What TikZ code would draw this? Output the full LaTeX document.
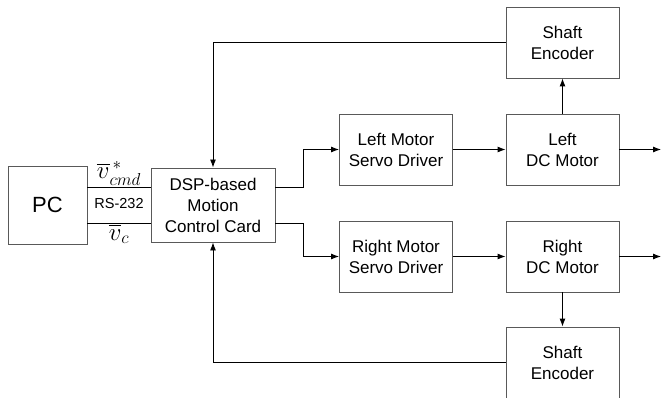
\documentclass[tikz,border=0pt]{standalone}
\usepackage{amsmath}
\usepackage{fontspec}
\setmainfont{Liberation Sans}
\usetikzlibrary{arrows.meta}

\tikzset{
  blockbox/.style={draw=black!65, line width=0.9pt, inner sep=0pt, align=center,
    font=\fontsize{17}{21}\selectfont, minimum width=113pt, minimum height=71pt},
  sig/.style={line width=0.9pt},
  vlabel/.style={font=\fontsize{27}{29}\selectfont, inner sep=0pt}
}

\begin{document}
\begin{tikzpicture}[x=1pt, y=1pt, >={Latex[length=8pt,width=6pt]}]
    \useasboundingbox (0,0) rectangle (662,397);
    % PC and motion control card
    \node[blockbox, minimum width=79pt, minimum height=78pt, font=\fontsize{22}{26}\selectfont] (pc) at (47.5,192) {PC};
    \node[blockbox, minimum width=124pt, minimum height=74pt] (dsp) at (213,192) {DSP-based\\Motion\\Control Card};
    % serial link
    \draw[sig] ([yshift=18pt]pc.east) -- node[above=1pt, vlabel] {$\overline{v}^{\,*}_{cmd}$} ([yshift=18pt]dsp.west);
    \draw[sig] ([yshift=-18pt]pc.east) -- node[below=1pt, vlabel] {$\overline{v}_{c}$} ([yshift=-18pt]dsp.west);
    \node[font=\fontsize{14.5}{17}\selectfont] (rs) at (119,193) {RS-232};
    % servo drivers
    \node[blockbox] (lsd) at (396,247.5) {Left Motor\\Servo Driver};
    \node[blockbox] (rsd) at (396,140.5) {Right Motor\\Servo Driver};
    % DC motors
    \node[blockbox] (ldc) at (562.5,247.5) {Left\\DC Motor};
    \node[blockbox] (rdc) at (562.5,140.5) {Right\\DC Motor};
    % shaft encoders
    \node[blockbox] (lenc) at (562.5,354.5) {Shaft\\Encoder};
    \node[blockbox] (renc) at (562.5,34.5) {Shaft\\Encoder};
    \coordinate (lout) at (661,247.5);
    \coordinate (rout) at (661,140.5);
    % forward path
    \draw[sig, ->] ([yshift=18pt]dsp.east) -- ++(28,0) |- (lsd.west);
    \draw[sig, ->] ([yshift=-18pt]dsp.east) -- ++(28,0) |- (rsd.west);
    \draw[sig, ->] (lsd) -- (ldc);
    \draw[sig, ->] (rsd) -- (rdc);
    \draw[sig, ->] (ldc) -- (lout);
    \draw[sig, ->] (rdc) -- (rout);
    % feedback
    \draw[sig, ->] (ldc) -- (lenc);
    \draw[sig, ->] (rdc) -- (renc);
    \draw[sig, ->] (lenc.west) -| (dsp.north);
    \draw[sig, ->] (renc.west) -| (dsp.south);
\end{tikzpicture}
\end{document}
